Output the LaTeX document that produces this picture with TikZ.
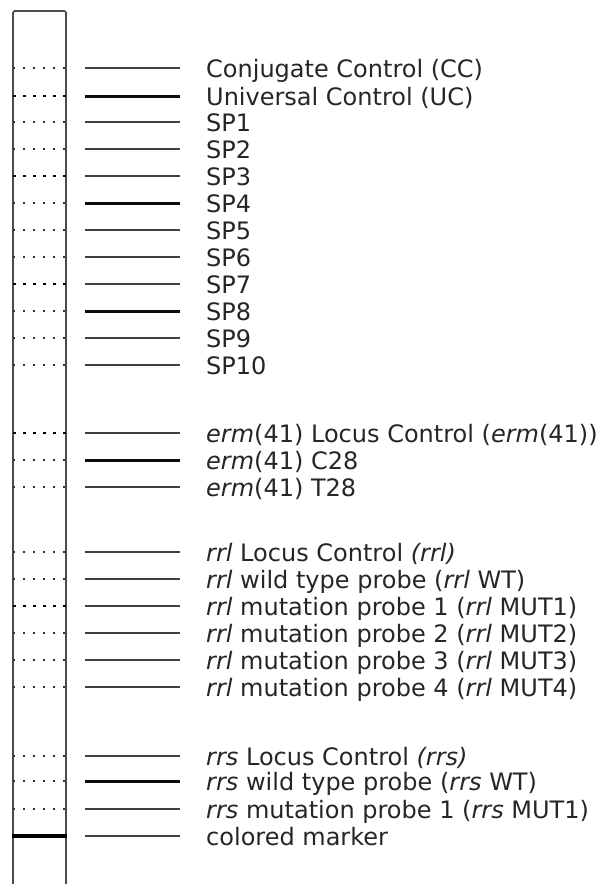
\documentclass[tikz,border=0pt]{standalone}
\usepackage{fontspec}
\setmainfont{DejaVu Sans}
\begin{document}
\begin{tikzpicture}[x=1pt,y=-1pt,
  lbl/.style={anchor=base west,inner sep=0pt,font=\fontsize{24}{26}\selectfont,text=black!85},
  bandthin/.style={line width=1.4pt,draw=black!75},
  bandthick/.style={line width=3pt,draw=black!95},
  dotrow/.style={line width=2pt,draw=black!80,dash pattern=on 2pt off 8pt},
  dotbold/.style={line width=2.8pt,draw=black,dash pattern=on 2.8pt off 7.2pt},
  stripframe/.style={line width=1.6pt,draw=black!70,rounded corners=1.5pt}]
\useasboundingbox (0,0) rectangle (608,884);
\fill[white] (0,0) rectangle (608,884);
\coordinate (stl) at (13,900);
\coordinate (sbl) at (13,11);
\coordinate (sbr) at (66,11);
\coordinate (str) at (66,900);
\draw[stripframe] (stl) -- (sbl) -- (sbr) -- (str);
\foreach \y/\sty/\dsty/\txt [count=\i] in {
 68/bandthin/dotrow/{Conjugate Control (CC)},
 96/bandthick/dotbold/{Universal Control (UC)},
 122/bandthin/dotrow/{SP1},
 149/bandthin/dotrow/{SP2},
 176/bandthin/dotbold/{SP3},
 203/bandthick/dotrow/{SP4},
 230/bandthin/dotrow/{SP5},
 257/bandthin/dotrow/{SP6},
 284/bandthin/dotbold/{SP7},
 311/bandthick/dotrow/{SP8},
 338/bandthin/dotrow/{SP9},
 365/bandthin/dotrow/{SP10},
 433/bandthin/dotbold/{\textit{erm}(41) Locus Control (\textit{erm}(41))},
 460/bandthick/dotrow/{\textit{erm}(41) C28},
 487/bandthin/dotrow/{\textit{erm}(41) T28},
 552/bandthin/dotrow/{\textit{rrl} Locus Control \textit{(rrl)}},
 579/bandthin/dotrow/{\textit{rrl} wild type probe (\textit{rrl} WT)},
 606/bandthin/dotbold/{\textit{rrl} mutation probe 1 (\textit{rrl} MUT1)},
 633/bandthin/dotrow/{\textit{rrl} mutation probe 2 (\textit{rrl} MUT2)},
 660/bandthin/dotrow/{\textit{rrl} mutation probe 3 (\textit{rrl} MUT3)},
 687/bandthin/dotrow/{\textit{rrl} mutation probe 4 (\textit{rrl} MUT4)},
 756/bandthin/dotrow/{\textit{rrs} Locus Control \textit{(rrs)}},
 781/bandthick/dotrow/{\textit{rrs} wild type probe (\textit{rrs} WT)},
 809/bandthin/dotrow/{\textit{rrs} mutation probe 1 (\textit{rrs} MUT1)}} {
  \coordinate (da\i) at (13,\y);
  \coordinate (db\i) at (66,\y);
  \draw[\dsty] (da\i) -- (db\i);
  \coordinate (la\i) at (85,\y);
  \coordinate (lb\i) at (180,\y);
  \draw[\sty] (la\i) -- (lb\i);
  \node[lbl] (t\i) at (206,\y+9) {\txt};
}
\coordinate (ma) at (12,836);
\coordinate (mb) at (67,836);
\draw[line width=3.4pt,draw=black] (ma) -- (mb);
\coordinate (mla) at (85,836);
\coordinate (mlb) at (180,836);
\draw[bandthin] (mla) -- (mlb);
\node[lbl] (tm) at (206,845) {colored marker};
\end{tikzpicture}
\end{document}
